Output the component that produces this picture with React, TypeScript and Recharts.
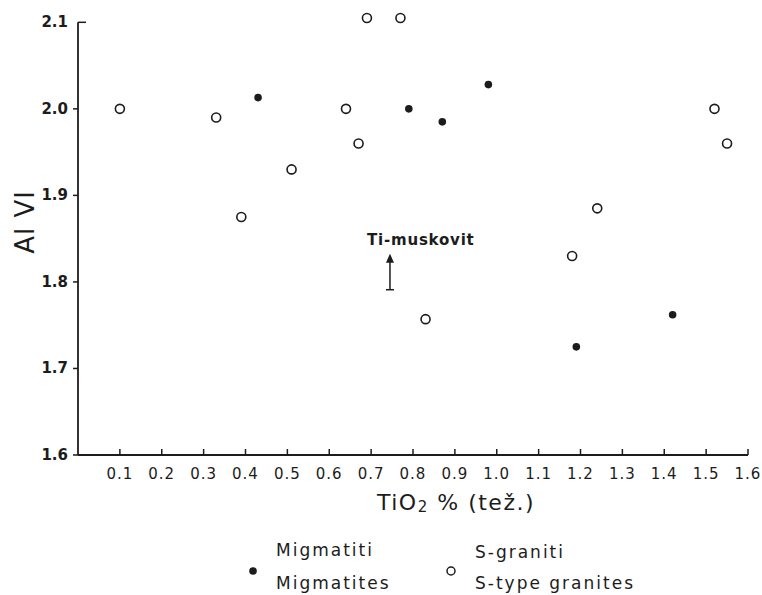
import React from "react";
import {
  ScatterChart,
  Scatter,
  XAxis,
  YAxis,
  ReferenceLine,
  ReferenceDot,
} from "recharts";

// Migmatiti / Migmatites (filled dots)
const migX = [0.43, 0.79, 0.87, 0.98, 1.19, 1.42];
const migY = [2.013, 2.0, 1.985, 2.028, 1.725, 1.762];

// S-graniti / S-type granites (open circles)
const sgrX = [0.1, 0.33, 0.39, 0.51, 0.64, 0.67, 0.69, 0.77, 0.83, 1.18, 1.24, 1.52, 1.55];
const sgrY = [2.0, 1.99, 1.875, 1.93, 2.0, 1.96, 2.105, 2.105, 1.757, 1.83, 1.885, 2.0, 1.96];

const xTicks = [0.1, 0.2, 0.3, 0.4, 0.5, 0.6, 0.7, 0.8, 0.9, 1.0, 1.1, 1.2, 1.3, 1.4, 1.5, 1.6];
const yTicks = [1.6, 1.7, 1.8, 1.9, 2.0, 2.1];

// Ti-muskovit arrow anchor
const tiMusX = 0.745;
const tiMusY = 1.791;

const INK = "#1c1c1c";
const FONT = "'DejaVu Sans', sans-serif";

const migData = migX.map((x, i) => ({ x, y: migY[i] }));
const sgrData = sgrX.map((x, i) => ({ x, y: sgrY[i] }));

const XTick = (props: any) => {
  const { x, y, payload } = props;
  return (
    <g>
      <line x1={x} x2={x} y1={y} y2={y - 6} stroke={INK} strokeWidth={1.5} />
      <text
        x={x}
        y={y + 24}
        textAnchor="middle"
        fontSize={15}
        letterSpacing={1}
        fill={INK}
        fontFamily={FONT}
      >
        {payload.value.toFixed(1)}
      </text>
    </g>
  );
};

const YTick = (props: any) => {
  const { x, y, payload } = props;
  const top = payload.value === 2.1;
  return (
    <g>
      {top ? (
        <line x1={x} x2={x + 8} y1={y} y2={y} stroke={INK} strokeWidth={1.5} />
      ) : (
        <line x1={x - 5} x2={x} y1={y} y2={y} stroke={INK} strokeWidth={1.5} />
      )}
      <text
        x={x - 10}
        y={y}
        textAnchor="end"
        dominantBaseline="central"
        fontSize={15}
        fontWeight="bold"
        fill={INK}
        fontFamily={FONT}
      >
        {payload.value.toFixed(1)}
      </text>
    </g>
  );
};

const OpenDot = (p: any) => (
  <circle cx={p.cx} cy={p.cy} r={4.5} fill="#fff" stroke={INK} strokeWidth={1.6} />
);
const FilledDot = (p: any) => <circle cx={p.cx} cy={p.cy} r={3.8} fill={INK} />;

const TiArrow = (p: any) => {
  const { cx, cy } = p;
  return (
    <g>
      <line x1={cx} x2={cx} y1={cy} y2={cy - 30} stroke={INK} strokeWidth={1.5} />
      <line x1={cx - 4} x2={cx + 4} y1={cy} y2={cy} stroke={INK} strokeWidth={1.5} />
      <path d={`M${cx - 4},${cy - 27} L${cx},${cy - 36} L${cx + 4},${cy - 27} Z`} fill={INK} />
      <text
        x={cx - 23}
        y={cy - 50}
        dominantBaseline="central"
        fontSize={15}
        letterSpacing={0.8}
        fontWeight="bold"
        fill={INK}
        fontFamily={FONT}
      >
        Ti-muskovit
      </text>
    </g>
  );
};

export default function App() {
  return (
    <div style={{ position: "absolute", left: 0, top: 0, width: 762, height: 595, background: "#fff" }}>
      <ScatterChart width={762} height={595} margin={{ top: 5, right: 14, bottom: 110, left: 18 }}>
        <XAxis
          type="number"
          dataKey="x"
          domain={[0, 1.6]}
          ticks={xTicks}
          tick={<XTick />}
          tickLine={false}
          tickSize={0}
          tickMargin={0}
          height={30}
          axisLine={{ stroke: INK, strokeWidth: 1.8 }}
          label={{
            content: () => (
              <text
                x={377}
                y={502}
                dominantBaseline="central"
                fontSize={22}
                letterSpacing={1.5}
                fill={INK}
                fontFamily={FONT}
              >
                TiO
                <tspan fontSize={15} dy={5}>2</tspan>
                <tspan dy={-5}> % (tež.)</tspan>
              </text>
            ),
          }}
        />
        <YAxis
          type="number"
          dataKey="y"
          domain={[1.6, 2.12]}
          ticks={yTicks}
          tick={<YTick />}
          tickLine={false}
          tickSize={0}
          tickMargin={0}
          width={60}
          axisLine={false}
          label={{
            content: () => (
              <text
                x={25}
                y={222}
                transform="rotate(-90 25 222)"
                textAnchor="middle"
                dominantBaseline="central"
                fontSize={26}
                letterSpacing={1}
                fill={INK}
                fontFamily={FONT}
              >
                Al VI
              </text>
            ),
          }}
        />
        <ReferenceLine
          segment={[
            { x: 0, y: 1.6 },
            { x: 0, y: 2.1 },
          ]}
          stroke={INK}
          strokeWidth={1.8}
        />
        <Scatter data={sgrData} shape={OpenDot} isAnimationActive={false} />
        <Scatter data={migData} shape={FilledDot} isAnimationActive={false} />
        <ReferenceDot x={tiMusX} y={tiMusY} shape={TiArrow} />
      </ScatterChart>

      <div
        style={{
          position: "absolute",
          left: 0,
          top: 0,
          width: 762,
          height: 595,
          pointerEvents: "none",
          fontFamily: FONT,
          color: INK,
          fontSize: 17,
          letterSpacing: 2,
          lineHeight: "20px",
        }}
      >
        <svg width={762} height={595} style={{ position: "absolute", left: 0, top: 0 }}>
          <circle cx={253} cy={571} r={3.8} fill={INK} />
          <circle cx={451} cy={571} r={4} fill="#fff" stroke={INK} strokeWidth={1.5} />
        </svg>
        <span style={{ position: "absolute", left: 276, top: 540 }}>Migmatiti</span>
        <span style={{ position: "absolute", left: 276, top: 573 }}>Migmatites</span>
        <span style={{ position: "absolute", left: 475, top: 542 }}>S-graniti</span>
        <span style={{ position: "absolute", left: 475, top: 573 }}>S-type granites</span>
      </div>
    </div>
  );
}
